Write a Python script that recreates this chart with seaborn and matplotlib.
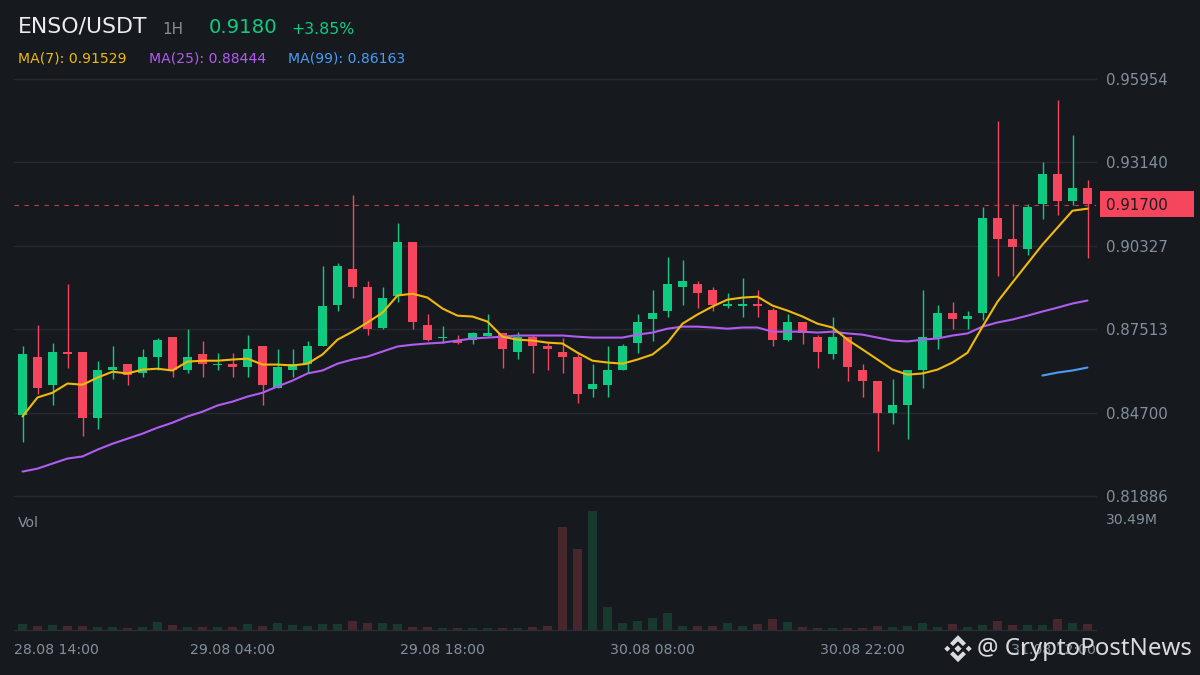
import numpy as np
import pandas as pd
import matplotlib
matplotlib.use("Agg")
import matplotlib.pyplot as plt
from matplotlib.patches import Rectangle, Polygon
import seaborn as sns

open_ = [.8463,.8656,.8564,.8676,.8676,.8453,.8615,.8635,.8605,.8656,.8726,.8615,.8666,.8629,.8635,.8625,.8696,.8554,.8615,.8635,
         .8696,.8834,.8956,.8895,.8757,.8865,.9047,.8767,.8720,.8716,.8716,.8730,.8737,.8676,.8726,.8696,.8676,.8656,.8548,.8564,
         .8615,.8706,.8787,.8814,.8895,.8905,.8885,.8831,.8831,.8838,.8817,.8716,.8777,.8726,.8666,.8726,.8615,.8578,.8467,.8494,
         .8615,.8720,.8807,.8787,.8807,.9128,.9057,.9023,.9175,.9276,.9185,.9226]
high = [.8693,.8767,.8706,.8905,.8676,.8645,.8696,.8635,.8683,.8723,.8726,.8753,.8713,.8672,.8672,.8733,.8696,.8686,.8683,.8713,
        .8966,.8976,.9205,.8915,.8895,.9108,.9047,.8804,.8763,.8733,.8743,.8804,.8737,.8743,.8733,.8706,.8723,.8669,.8635,.8696,
        .8703,.8804,.8885,.8996,.8986,.8915,.8895,.8875,.8925,.8885,.8824,.8804,.8777,.8733,.8794,.8726,.8635,.8578,.8585,.8615,
        .8885,.8834,.8844,.8814,.9165,.9455,.9175,.9175,.9317,.9526,.9405,.9256]
low = [.8372,.8534,.8494,.8622,.8392,.8413,.8585,.8564,.8591,.8612,.8591,.8602,.8591,.8612,.8591,.8591,.8494,.8554,.8591,.8602,
       .8693,.8814,.8855,.8733,.8753,.8844,.8753,.8713,.8706,.8703,.8703,.8730,.8622,.8652,.8602,.8612,.8602,.8504,.8524,.8524,
       .8612,.8672,.8713,.8794,.8834,.8824,.8814,.8824,.8794,.8794,.8693,.8713,.8703,.8622,.8652,.8575,.8524,.8342,.8433,.8382,
       .8554,.8683,.8753,.8753,.8784,.8932,.8932,.9003,.9124,.9135,.9172,.8993]
close = [.8666,.8554,.8676,.8666,.8453,.8615,.8625,.8598,.8656,.8716,.8612,.8656,.8635,.8635,.8625,.8686,.8564,.8625,.8635,.8696,
         .8828,.8966,.8895,.8753,.8858,.9047,.8774,.8716,.8726,.8706,.8737,.8737,.8686,.8726,.8696,.8686,.8656,.8534,.8568,.8615,
         .8696,.8777,.8807,.8905,.8915,.8875,.8834,.8838,.8838,.8828,.8716,.8777,.8737,.8676,.8726,.8625,.8575,.8467,.8497,.8615,
         .8726,.8807,.8787,.8797,.9128,.9057,.9027,.9165,.9276,.9185,.9226,.9175]
ma7 = [.8457,.8521,.8537,.8568,.8564,.8588,.8608,.8602,.8615,.8618,.8612,.8642,.8645,.8645,.8649,.8652,.8632,.8632,.8629,.8635,
       .8666,.8716,.8743,.8774,.8807,.8865,.8871,.8858,.8821,.8797,.8794,.8777,.8726,.8716,.8713,.8706,.8703,.8672,.8645,.8639,
       .8635,.8649,.8666,.8706,.8770,.8801,.8828,.8851,.8858,.8861,.8831,.8814,.8794,.8770,.8757,.8716,.8683,.8649,.8615,.8598,
       .8602,.8615,.8639,.8672,.8760,.8844,.8909,.8973,.9037,.9094,.9151,.9158]
ma25 = [.8271,.8281,.8298,.8315,.8322,.8345,.8365,.8382,.8399,.8419,.8436,.8457,.8473,.8494,.8507,.8524,.8537,.8558,.8578,.8602,
        .8612,.8635,.8649,.8659,.8676,.8693,.8699,.8703,.8706,.8713,.8720,.8723,.8726,.8730,.8730,.8730,.8730,.8726,.8723,.8723,
        .8723,.8733,.8740,.8753,.8760,.8760,.8757,.8753,.8757,.8757,.8743,.8743,.8743,.8740,.8743,.8737,.8733,.8723,.8713,.8710,
        .8716,.8720,.8730,.8737,.8760,.8774,.8784,.8797,.8811,.8824,.8838,.8848]
ma99_index = [68, 69, 70, 71]
ma99 = [.8595, .8605, .8612, .8622]
volume = [1.29,.78,1.03,.78,.78,.52,.52,.26,.52,1.81,1.03,.52,.52,.52,.52,1.29,.78,1.55,1.03,.78,
          1.29,1.29,2.07,1.55,1.55,1.29,.52,.52,.26,.26,.26,.26,.26,.26,.52,.78,26.36,20.67,30.49,5.68,
          1.55,2.07,2.84,4.13,.78,.78,.78,1.55,.78,1.29,2.58,1.81,.52,.26,.26,.26,.26,.78,.52,.78,
          1.55,.52,1.29,.52,1.03,2.07,1.03,1.03,1.03,2.58,1.55,1.29]
price_ticks = [0.95954, 0.93140, 0.90327, 0.87513, 0.84700, 0.81886]
XL = (-8.5 / 15, 1073.5 / 15)
time_ticks = [XL[0], 14, 28, 42, 56, XL[1]]
time_labels = ["28.08 14:00", "29.08 04:00", "29.08 18:00", "30.08 08:00", "30.08 22:00", "31.08 12:00"]
last_price = 0.917

BG, GRID, TXT = "#161a1f", "#262a30", "#848e9c"
UP, DOWN = "#0ecb81", "#f6465d"
VUP, VDOWN = "#12402f", "#4d2029"
YEL, PUR, BLU = "#f0b90b", "#b15cf0", "#4a9cf5"
W, H = 1200, 675

sns.set_theme(style="dark", rc={"axes.facecolor": BG, "figure.facecolor": BG, "font.family": "DejaVu Sans"})

df = pd.DataFrame({"i": np.arange(len(open_)), "open": open_, "high": high, "low": low, "close": close,
                   "ma7": ma7, "ma25": ma25, "vol": volume})
df["dir"] = np.where(df["close"] >= df["open"], "up", "down")
df["color"] = df["dir"].map({"up": UP, "down": DOWN})

fig = plt.figure(figsize=(12, 6.75), dpi=100, facecolor=BG)
def rect(x0, y0, x1, y1):
    return [x0 / W, 1 - y1 / H, (x1 - x0) / W, (y1 - y0) / H]
def fx(x): return x / W
def fy(y): return 1 - y / H

ax = fig.add_axes(rect(14, 79, 1096, 496))
vx = fig.add_axes(rect(14, 511, 1096, 629.5))

# price grid
ax.set_ylim(0.81886, 0.95954)
ax.set_xlim(*XL)
ax.set_yticks(price_ticks)
ax.set_yticklabels([f"{t:.5f}" for t in price_ticks])
ax.yaxis.tick_right()
ax.tick_params(axis="y", length=0, pad=7.2, labelsize=10.8, labelcolor=TXT)
ax.set_xticks([])
ax.grid(axis="y", color=GRID, lw=1.0)
for line in ax.get_ygridlines():
    line.set_clip_on(False)
ax.set_axisbelow(True)
for s in ax.spines.values():
    s.set_visible(False)

# candles
wicks = ax.vlines(df["i"], df["low"], df["high"], colors=df["color"], lw=1.0, zorder=2)
wicks.set_snap(True)
ax.bar(df["i"], (df["close"] - df["open"]).abs(), bottom=df[["open", "close"]].min(axis=1),
       width=0.6, color=df["color"], zorder=3, linewidth=0)
ax.axhline(last_price, color=DOWN, lw=0.8, dashes=(4, 5), alpha=0.75, zorder=4)

# moving averages
sns.lineplot(data=df, x="i", y="ma25", color=PUR, lw=1.5, ax=ax, zorder=5, errorbar=None)
sns.lineplot(data=df, x="i", y="ma7", color=YEL, lw=1.5, ax=ax, zorder=6, errorbar=None)
sns.lineplot(x=ma99_index, y=ma99, color=BLU, lw=1.5, ax=ax, zorder=6, errorbar=None)
ax.set_xlabel(""); ax.set_ylabel("")
ax.set_xlim(*XL)

# volume
sns.barplot(data=df, x="i", y="vol", hue="dir", palette={"up": VUP, "down": VDOWN}, dodge=False,
            native_scale=True, width=0.6, legend=False, ax=vx, linewidth=0)
vx.set_xlim(*XL)
vx.set_ylim(0, 30.49)
vx.set_xlabel(""); vx.set_ylabel("")
vx.set_yticks([])
vx.set_xticks(time_ticks)
vx.set_xticklabels(time_labels)
vx.tick_params(axis="x", length=0, pad=10, labelsize=10.2, labelcolor=TXT)
labels = vx.get_xticklabels()
labels[0].set_ha("left"); labels[-1].set_ha("right")
for k, s in vx.spines.items():
    s.set_visible(k == "bottom")
vx.spines["bottom"].set_color("#2a2e35")
vx.spines["bottom"].set_linewidth(0.9)
vx.grid(False)

# header
def T(x, y, s, c, fs, **kw):
    return fig.text(fx(x), fy(y), s, color=c, fontsize=fs, va="center", ha=kw.pop("ha", "left"), **kw)
T(18, 27, "ENSO/USDT", "#eaecef", 15.8)
T(162, 29, "1H", TXT, 10.9)
T(209, 27.5, "0.9180", UP, 14.2)
T(291, 29, "+3.85%", UP, 11.3)
T(18, 58, "MA(7): 0.91529", YEL, 10.1)
T(149, 58, "MA(25): 0.88444", PUR, 10.1)
T(288, 58, "MA(99): 0.86163", BLU, 10.1)
T(18, 523, "Vol", TXT, 10.1)
T(1106, 520, "30.49M", TXT, 10.1)

# last price tag
fig.patches.append(Rectangle((fx(1100), fy(217)), 94 / W, 26 / H, transform=fig.transFigure,
                             facecolor=DOWN, edgecolor="none", zorder=7))
T(1106, 205.5, "0.91700", "#181a20", 10.8, zorder=8)

# watermark
mark = "#d9dbde"
cx, cy = 958, 648.7
def poly(pts):
    fig.patches.append(Polygon([(fx(cx + a), fy(cy + b)) for a, b in pts], closed=True, transform=fig.transFigure,
                               facecolor=mark, edgecolor="none", zorder=9))
def diamond(a, b, r):
    poly([(a - r, b), (a, b - r), (a + r, b), (a, b + r)])
diamond(0, 0, 3.6)
diamond(-10.7, 0, 3.0)
diamond(10.7, 0, 3.0)
poly([(0, -13.5), (8, -5.5), (5, -2.6), (0, -7.4), (-5, -2.6), (-8, -5.5)])
poly([(0, 13.5), (8, 5.5), (5, 2.6), (0, 7.4), (-5, 2.6), (-8, 5.5)])
T(977, 649, "@ CryptoPostNews", mark, 17.3, family="Noto Sans", zorder=9)

fig.savefig("out.png", dpi=100, facecolor=BG)
